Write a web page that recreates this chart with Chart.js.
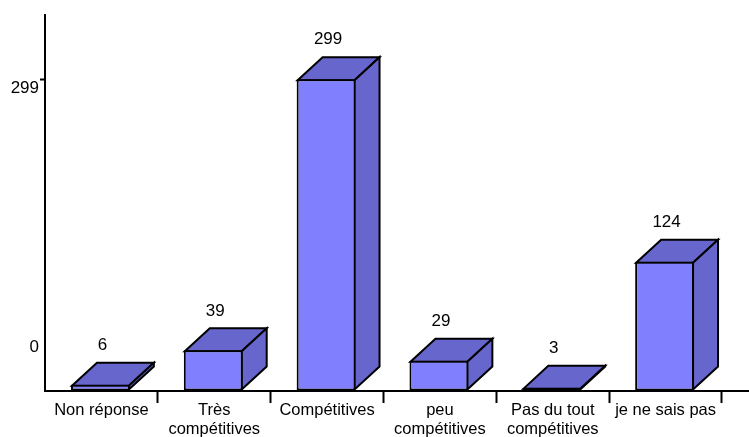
<!DOCTYPE html>
<html>
<head>
<meta charset="utf-8">
<style>html,body{margin:0;padding:0;background:#fff}canvas{display:block}</style>
<script src="https://cdn.jsdelivr.net/npm/chart.js@4"></script>
</head>
<body>
<canvas id="c" width="749" height="437"></canvas>
<script>
const categories = [
  "Non réponse",
  ["Très", "compétitives"],
  "Compétitives",
  ["peu", "compétitives"],
  ["Pas du tout", "compétitives"],
  "je ne sais pas"
];
const values = [6, 39, 299, 29, 3, 124];
const yTickValues = [0, 299];

const FONT = '"Liberation Sans", Arial, sans-serif';
const DX = 25, DY = 23;
const DARK = '#6666CC', FRONT = '#8080FF';

const box3d = {
  id: 'box3d',
  afterDatasetsUpdate(chart) {
    // boxes sit one pixel left of the category centre in the original
    chart.getDatasetMeta(0).data.forEach(b => { b.x -= 1; });
  },
  beforeDatasetsDraw(chart) {
    const ctx = chart.ctx;
    ctx.save();
    ctx.lineWidth = 2;
    ctx.strokeStyle = '#000';
    ctx.lineJoin = 'miter';
    ctx.fillStyle = DARK;
    chart.getDatasetMeta(0).data.forEach(b => {
      const p = b.getProps(['x', 'y', 'base', 'width'], true);
      const l = p.x - p.width / 2 + 1, r = p.x + p.width / 2 - 1, t = p.y + 1, bs = p.base - 1;
      ctx.beginPath();
      ctx.moveTo(l, t); ctx.lineTo(l + DX, t - DY); ctx.lineTo(r + DX, t - DY); ctx.lineTo(r, t); ctx.closePath();
      ctx.fill(); ctx.stroke();
      ctx.beginPath();
      ctx.moveTo(r, t); ctx.lineTo(r + DX, t - DY); ctx.lineTo(r + DX, bs - DY); ctx.lineTo(r, bs); ctx.closePath();
      ctx.fill(); ctx.stroke();
    });
    ctx.restore();
  },
  afterDraw(chart) {
    const ctx = chart.ctx, y = chart.scales.y, area = chart.chartArea;
    ctx.save();
    // baseline continues past the last category
    ctx.strokeStyle = '#000';
    ctx.lineWidth = 2;
    ctx.beginPath();
    ctx.moveTo(area.right, y.getPixelForValue(0));
    ctx.lineTo(chart.width, y.getPixelForValue(0));
    ctx.stroke();
    ctx.fillStyle = '#000';
    ctx.textBaseline = 'middle';
    // value labels above each box
    ctx.font = '17px ' + FONT;
    ctx.textAlign = 'center';
    chart.getDatasetMeta(0).data.forEach((b, i) => {
      const p = b.getProps(['x', 'y'], true);
      ctx.fillText(String(values[i]), p.x + 2, p.y - 39.5);
    });
    // value axis labels sit away from their ticks in the original
    ctx.textAlign = 'right';
    const shift = { 0: -44, 299: 9 };
    yTickValues.forEach(v => {
      ctx.fillText(String(v), 39, y.getPixelForValue(v) + shift[v]);
    });
    ctx.restore();
  }
};

new Chart(document.getElementById('c'), {
  type: 'bar',
  data: {
    labels: categories,
    datasets: [{
      data: values,
      backgroundColor: FRONT,
      borderColor: '#000',
      borderWidth: 2,
      borderSkipped: false,
      barPercentage: 0.522,
      categoryPercentage: 1
    }]
  },
  options: {
    responsive: false,
    animation: false,
    events: [],
    layout: { padding: { top: 15, right: 27, left: 0, bottom: 0 } },
    plugins: { legend: { display: false }, tooltip: { enabled: false }, title: { display: false } },
    scales: {
      x: {
        afterFit(s) { s.height = 46; },
        border: { color: '#000', width: 2 },
        grid: {
          offset: true,
          drawOnChartArea: false,
          tickLength: 12,
          tickWidth: 2,
          tickColor: c => c.index === 0 ? 'transparent' : '#000'
        },
        ticks: {
          autoSkip: false,
          maxRotation: 0,
          minRotation: 0,
          color: '#000',
          padding: -2,
          labelOffset: 0,
          font: { family: FONT, size: 16.5, lineHeight: 1.15 }
        }
      },
      y: {
        min: 0,
        max: 360.5,
        afterFit(s) { s.width = 45; },
        afterBuildTicks(s) { s.ticks = yTickValues.map(v => ({ value: v })); },
        border: { color: '#000', width: 2 },
        grid: {
          drawOnChartArea: false,
          tickLength: 5,
          tickWidth: 2,
          tickColor: c => (c.tick && c.tick.value === 0) ? 'transparent' : '#000'
        },
        ticks: { display: false }
      }
    }
  },
  plugins: [box3d]
});
</script>
</body>
</html>
